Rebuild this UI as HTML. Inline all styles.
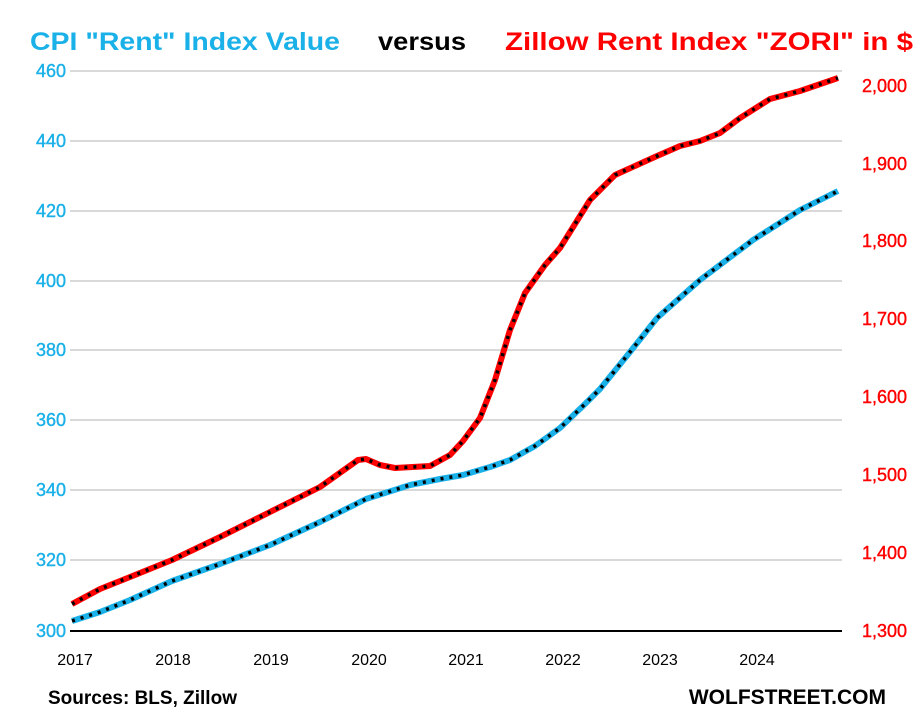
<!DOCTYPE html>
<html><head><style>body{margin:0;background:#fff}svg{display:block}</style></head><body>
<svg width="924" height="726" xmlns="http://www.w3.org/2000/svg" font-family="Liberation Sans, sans-serif">
<g font-weight="bold" font-size="25">
<text x="30" y="50" fill="#1ab0e8" textLength="310" lengthAdjust="spacingAndGlyphs">CPI "Rent" Index Value</text>
<text x="378" y="50" fill="#000" textLength="88" lengthAdjust="spacingAndGlyphs">versus</text>
<text x="505" y="50" fill="#ff0000" textLength="408" lengthAdjust="spacingAndGlyphs">Zillow Rent Index "ZORI" in $</text>
</g>
<g stroke="#d9d9d9" stroke-width="2">
<line x1="70" x2="842" y1="71" y2="71"/><line x1="70" x2="842" y1="141" y2="141"/>
<line x1="70" x2="842" y1="211" y2="211"/><line x1="70" x2="842" y1="281" y2="281"/>
<line x1="70" x2="842" y1="350" y2="350"/><line x1="70" x2="842" y1="420" y2="420"/>
<line x1="70" x2="842" y1="490" y2="490"/><line x1="70" x2="842" y1="560" y2="560"/>
</g>
<line x1="70" x2="842" y1="631" y2="631" stroke="#000" stroke-width="2"/>
<g fill="#1ab0e8" font-size="18" text-anchor="end" stroke="#1ab0e8" stroke-width="0.4">
<text x="66" y="77">460</text><text x="66" y="147">440</text><text x="66" y="217">420</text>
<text x="66" y="287">400</text><text x="66" y="356">380</text><text x="66" y="426">360</text>
<text x="66" y="496">340</text><text x="66" y="566">320</text><text x="66" y="637">300</text>
</g>
<g fill="#ff0000" font-size="18" stroke="#ff0000" stroke-width="0.4">
<text x="862" y="92">2,000</text><text x="862" y="170">1,900</text><text x="862" y="247">1,800</text>
<text x="862" y="325">1,700</text><text x="862" y="403">1,600</text><text x="862" y="481">1,500</text>
<text x="862" y="559">1,400</text><text x="862" y="637">1,300</text>
</g>
<g fill="#000" font-size="16" text-anchor="middle">
<text x="75" y="665">2017</text><text x="173" y="665">2018</text><text x="271" y="665">2019</text>
<text x="369" y="665">2020</text><text x="466" y="665">2021</text><text x="563" y="665">2022</text>
<text x="660" y="665">2023</text><text x="757" y="665">2024</text>
</g>
<text x="48" y="704" font-size="19" font-weight="bold">Sources: BLS, Zillow</text>
<text x="886" y="704" font-size="21" font-weight="bold" text-anchor="end">WOLFSTREET.COM</text>
<g fill="none" stroke-linejoin="round">
<polyline stroke="#1ab0e8" stroke-width="6" points="72,621 100,612 130,600 172,581 220,564 270,545 320,522 366,499 410,485 440,479 463,475 490,467 510,460 535,446 560,428 585,404 600,389 630,352 657,318 700,280 753,240 800,210 838,191"/>
<polyline stroke="#000" stroke-width="3.5" stroke-dasharray="3 6" points="72,621 100,612 130,600 172,581 220,564 270,545 320,522 366,499 410,485 440,479 463,475 490,467 510,460 535,446 560,428 585,404 600,389 630,352 657,318 700,280 753,240 800,210 838,191"/>
<polyline stroke="#ff0000" stroke-width="6" points="72,604 100,589 130,577 172,560 220,537 270,512 320,487 358,460 366,459 380,465 395,468 430,466 450,455 463,441 480,418 495,380 510,330 525,293 545,265 560,248 590,200 615,175 657,156 680,146 700,141 720,133 740,118 770,99 800,91 838,78"/>
<polyline stroke="#000" stroke-width="3.5" stroke-dasharray="3 6" points="72,604 100,589 130,577 172,560 220,537 270,512 320,487 358,460 366,459 380,465 395,468 430,466 450,455 463,441 480,418 495,380 510,330 525,293 545,265 560,248 590,200 615,175 657,156 680,146 700,141 720,133 740,118 770,99 800,91 838,78"/>
</g>
</svg>
</body></html>
